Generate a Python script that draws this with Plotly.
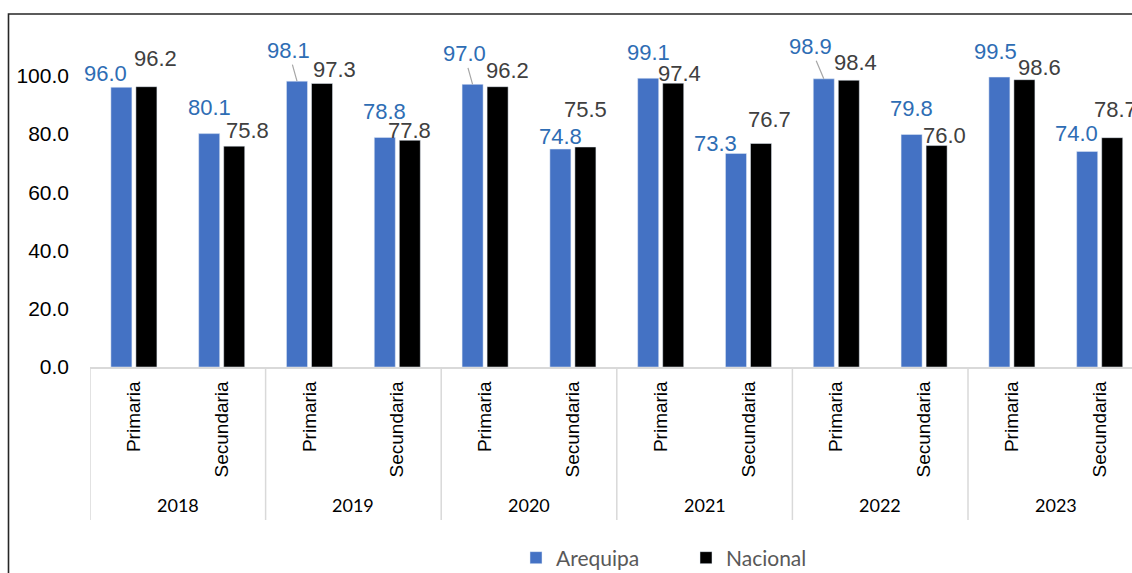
import plotly.graph_objects as go

# ---- data ----
years = ["2018", "2019", "2020", "2021", "2022", "2023"]
levels = ["Primaria", "Secundaria"]
arequipa = [96.0, 80.1, 98.1, 78.8, 97.0, 74.8, 99.1, 73.3, 98.9, 79.8, 99.5, 74.0]
nacional = [96.2, 75.8, 97.3, 77.8, 96.2, 75.5, 97.4, 76.7, 98.4, 76.0, 98.6, 78.7]
y_ticks = [0, 20, 40, 60, 80, 100]

# ---- label placement (pixel offsets of label centre from bar top centre) ----
are_dx = [-16, 0, -8.5, 0, -8.5, 0, 0, -20, -13.5, 0, -3.5, -10.5]
are_dy = [-14, -26, -30.5, -25.5, -30.5, -13, -25.5, -9.5, -32, -26, -26, -17.7]
are_leader = [False, False, True, False, True, False, False, False, True, False, False, False]
nac_dx = [9.5, 13, 12.5, 0, 9.5, 0, 6, 8.5, 6.5, 7.5, 15.5, 3]
nac_dy = [-28.5, -15.7, -13.5, -9.5, -16.5, -37.5, -10, -24.5, -17.5, -10, -12.5, -28]

W, H = 1132, 573
ML, MR, MT, MB = 90, 0, 29, 206
plot_w = W - ML - MR
plot_h = H - MT - MB
cat_px = 87.8
x_max = -0.5 + plot_w / cat_px
bargap = 0.43
slot_px = (1 - bargap) / 2 * cat_px
bar_off = slot_px / 2

x_pos = list(range(len(years) * len(levels)))
tick_text = [lv for _ in years for lv in levels]

AREQ_COLOR = "#4472C4"
NAC_COLOR = "#000000"
AREQ_LABEL = "#2E6DB4"
NAC_LABEL = "#404040"
TXT_FONT = "Liberation Sans"
LBL_SIZE = 22

fig = go.Figure()
fig.add_trace(go.Bar(x=x_pos, y=arequipa, name="Arequipa", marker_color=AREQ_COLOR,
                     hoverinfo="skip"))
fig.add_trace(go.Bar(x=x_pos, y=nacional, name="Nacional", marker_color=NAC_COLOR,
                     hoverinfo="skip"))

annotations = []
for i, v in enumerate(arequipa):
    txt = f"{v:.1f}"
    if are_leader[i]:
        annotations.append(dict(
            x=x_pos[i], y=v, xref="x", yref="y", xshift=-bar_off, text=txt,
            showarrow=True, arrowhead=0, arrowwidth=1.2, arrowcolor="#A6A6A6",
            ax=are_dx[i], ay=are_dy[i], standoff=0,
            font=dict(family=TXT_FONT, size=LBL_SIZE, color=AREQ_LABEL)))
    else:
        annotations.append(dict(
            x=x_pos[i], y=v, xref="x", yref="y", text=txt, showarrow=False,
            xshift=-bar_off + are_dx[i], yshift=-are_dy[i],
            xanchor="center", yanchor="middle",
            font=dict(family=TXT_FONT, size=LBL_SIZE, color=AREQ_LABEL)))
for i, v in enumerate(nacional):
    annotations.append(dict(
        x=x_pos[i], y=v, xref="x", yref="y", text=f"{v:.1f}", showarrow=False,
        xshift=bar_off + nac_dx[i], yshift=-nac_dy[i],
        xanchor="center", yanchor="middle",
        font=dict(family=TXT_FONT, size=LBL_SIZE, color=NAC_LABEL)))

# year labels
for k, yr in enumerate(years):
    annotations.append(dict(
        x=2 * k + 0.5, y=(367 - 505) / plot_h, xref="x", yref="paper", text=yr,
        showarrow=False, xanchor="center", yanchor="middle",
        font=dict(family="Lato", size=18, color="#000000")))

shapes = []
for k in range(len(years)):
    shapes.append(dict(type="line", xref="x", yref="paper",
                       x0=2 * k - 0.5, x1=2 * k - 0.5, y0=0, y1=(367 - 520) / plot_h,
                       line=dict(color="#D9D9D9", width=1.5)))
# outer frame
shapes.append(dict(type="rect", xref="paper", yref="paper",
                   x0=(8.5 - ML) / plot_w, x1=1.2,
                   y0=-1.0, y1=(367 - 14) / plot_h,
                   line=dict(color="#262626", width=1.6), fillcolor="rgba(0,0,0,0)"))

fig.update_layout(
    width=W, height=H,
    margin=dict(l=ML, r=MR, t=MT, b=MB, autoexpand=False),
    paper_bgcolor="white", plot_bgcolor="white",
    barmode="group", bargap=bargap, bargroupgap=0.16,
    showlegend=True,
    legend=dict(orientation="h", x=(516 - ML) / plot_w, y=(367 - 558) / plot_h,
                xanchor="left", yanchor="middle", entrywidth=125, entrywidthmode="pixels",
                font=dict(family="Lato", size=21, color="#595959"),
                bgcolor="rgba(0,0,0,0)"),
    annotations=annotations,
    shapes=shapes,
    xaxis=dict(range=[-0.5, x_max], tickmode="array", tickvals=x_pos, ticktext=tick_text,
               tickangle=-90, ticks="", showgrid=False, zeroline=False,
               showline=True, linecolor="#D9D9D9", linewidth=1.5,
               tickfont=dict(family=TXT_FONT, size=19, color="#000000"),
               ticklabelstandoff=5),
    yaxis=dict(range=[0, 116], tickmode="array", tickvals=y_ticks, tickformat=".1f",
               showgrid=False, zeroline=False, showline=False, ticks="",
               tickfont=dict(family=TXT_FONT, size=21, color="#000000"),
               ticklabelstandoff=20),
)

fig.write_html("out.html", config={"displayModeBar": False},
               post_script="document.body.style.margin='0';document.body.style.overflow='hidden';")
